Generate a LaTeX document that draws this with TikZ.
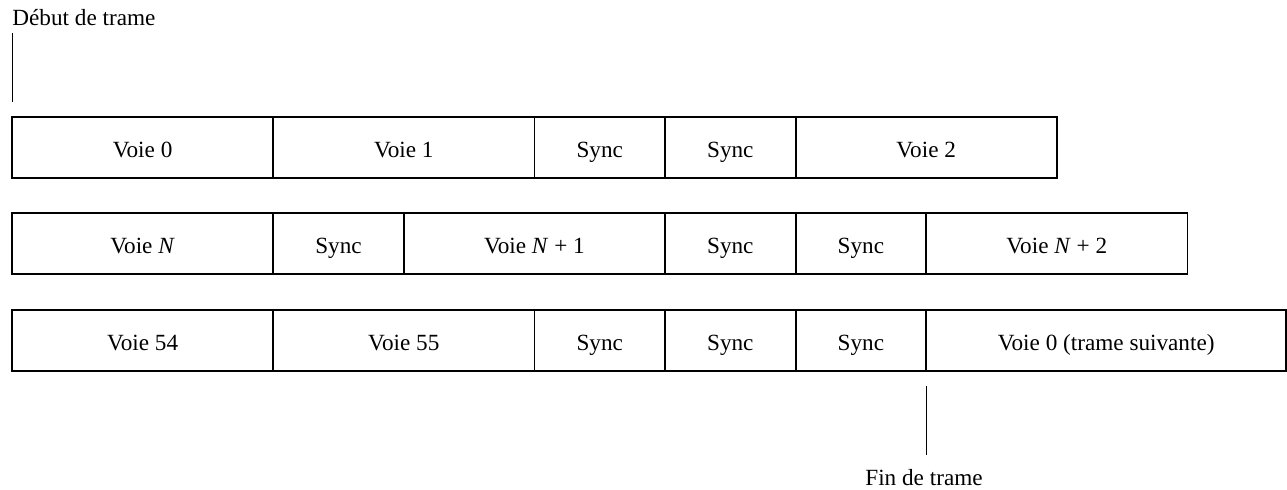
\documentclass[tikz,border=0pt]{standalone}
\usepackage{fontspec}
\setmainfont{Liberation Serif}
\usetikzlibrary{positioning}
\tikzstyle{slot} = [draw,line width=0.9pt,minimum height=30.5pt,inner sep=0pt,outer sep=0pt,text height=10pt,text depth=0pt]
\tikzstyle{voie} = [slot,minimum width=130.6pt]
\tikzstyle{sync} = [slot,minimum width=65.3pt]
\tikzstyle{marker} = [draw,line width=0.5pt]

\begin{document}
\begin{tikzpicture}[x=0.5pt,y=-0.5pt,node distance=0pt,font=\fontsize{11.6}{13}\selectfont]
   \useasboundingbox (0,0) rectangle (1287,489);

   % first row
   \node[voie,anchor=west] (v0) at (12,147.5) {Voie 0};
   \node[voie] (v1) [right=of v0] {Voie 1};
   \node[sync] (s1a) [right=of v1] {Sync};
   \node[sync] (s1b) [right=of s1a] {Sync};
   \node[voie] (v2) [right=of s1b] {Voie 2};

   % second row
   \node[voie,anchor=west] (vn) at (12,243.5) {Voie \textit{N}};
   \node[sync] (s2a) [right=of vn] {Sync};
   \node[voie] (vn1) [right=of s2a] {Voie \textit{N} + 1};
   \node[sync] (s2b) [right=of vn1] {Sync};
   \node[sync] (s2c) [right=of s2b] {Sync};
   \node[voie] (vn2) [right=of s2c] {Voie \textit{N} + 2};

   % third row
   \node[voie,anchor=west] (v54) at (12,340.5) {Voie 54};
   \node[voie] (v55) [right=of v54] {Voie 55};
   \node[sync] (s3a) [right=of v55] {Sync};
   \node[sync] (s3b) [right=of s3a] {Sync};
   \node[sync] (s3c) [right=of s3b] {Sync};
   \node[slot,minimum width=180pt] (next) [right=of s3c] {Voie 0 (trame suivante)};

   % start / end of frame
   \node[anchor=base west,inner sep=0pt] (debut) at (12,25) {Début de trame};
   \coordinate (dtop) at (12,33);
   \coordinate (dbot) at (12,102);
   \draw[marker] (dtop) -- (dbot);

   \node[anchor=base,inner sep=0pt] (fin) at (924,485) {Fin de trame};
   \coordinate (ftop) at (926,386);
   \coordinate (fbot) at (926,455);
   \draw[marker] (ftop) -- (fbot);
\end{tikzpicture}
\end{document}
